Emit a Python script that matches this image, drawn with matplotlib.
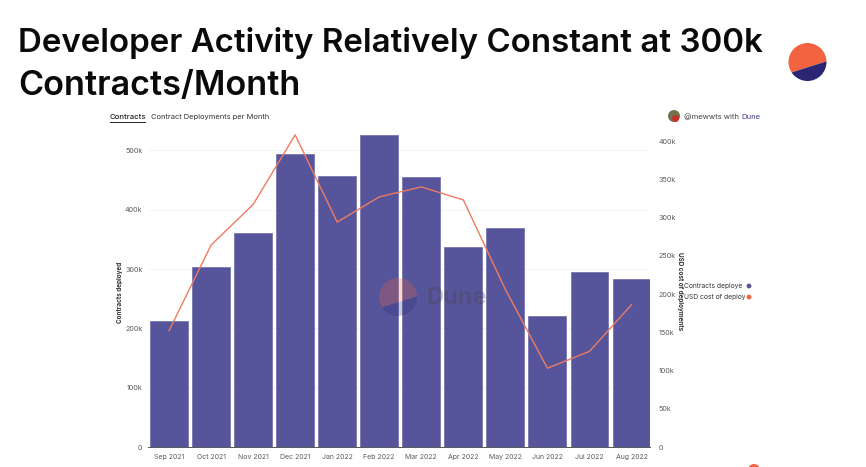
import matplotlib
matplotlib.use("Agg")
import numpy as np
import matplotlib.pyplot as plt
from matplotlib.patches import Circle, Polygon, Rectangle

months = ['Sep 2021', 'Oct 2021', 'Nov 2021', 'Dec 2021', 'Jan 2022', 'Feb 2022',
          'Mar 2022', 'Apr 2022', 'May 2022', 'Jun 2022', 'Jul 2022', 'Aug 2022']
contracts = [212000, 303500, 361000, 494000, 457000, 526000,
             455000, 337000, 369000, 221000, 295000, 283000]
usd_cost = [152000, 264000, 317000, 408000, 294000, 327000,
            340000, 323000, 206000, 103000, 125000, 186000]
left_ticks = [0, 100000, 200000, 300000, 400000, 500000]
left_labels = ['0', '100k', '200k', '300k', '400k', '500k']
right_ticks = [0, 50000, 100000, 150000, 200000, 250000, 300000, 350000, 400000]
right_labels = ['0', '50k', '100k', '150k', '200k', '250k', '300k', '350k', '400k']

W, H = 866, 467
PURPLE = '#56559b'
ORANGE = '#ee7b60'
LOGO_ORANGE = '#f4633f'
LOGO_NAVY = '#2b2673'

plt.rcParams['font.family'] = ['Inter', 'DejaVu Sans']
fig = plt.figure(figsize=(W / 100, H / 100), dpi=100, facecolor='white')

# main chart, placed in pixels
x0, x1, y_top, y_bot = 148, 650, 130, 447
ax = fig.add_axes([x0 / W, 1 - y_bot / H, (x1 - x0) / W, (y_bot - y_top) / H])
ax.bar(range(12), contracts, width=0.9, color=PURPLE, edgecolor='#6b6aaa', linewidth=0.5, zorder=2)
ax.set_xlim(-0.5, 11.44)
ax.set_ylim(0, 534500)
ax.set_xticks(range(12))
ax.set_xticklabels(months, fontsize=5.0, color='#5a5a5a')
ax.set_yticks(left_ticks)
ax.set_yticklabels(left_labels, fontsize=5.2, color='#5a5a5a')
ax.tick_params(length=0, pad=4)
ax.tick_params(axis='x', pad=5)
ax.grid(axis='y', color='#f4f4f4', linewidth=0.7, zorder=0)
ax.set_axisbelow(True)
for s in ['top', 'left', 'right']:
    ax.spines[s].set_visible(False)
ax.spines['bottom'].set_color('#555555')
ax.spines['bottom'].set_linewidth(0.7)

ax2 = ax.twinx()
ax2.plot(range(12), usd_cost, color=ORANGE, linewidth=1.0, zorder=5)
ax2.set_ylim(0, 414400)
ax2.set_yticks(right_ticks)
ax2.set_yticklabels(right_labels, fontsize=5.2, color='#5a5a5a')
ax2.tick_params(length=0, pad=6)
for s in ax2.spines.values():
    s.set_visible(False)

# overlay in pixel coordinates for title, logo, legend
ov = fig.add_axes([0, 0, 1, 1], zorder=10)
ov.set_xlim(0, W)
ov.set_ylim(H, 0)
ov.axis('off')


def logo(cx, cy, r, alpha=1.0):
    # slanted split a bit below the centre: orange on top, navy below
    th = np.radians(17.6)
    d = np.array([np.cos(th), -np.sin(th)])
    n = np.array([np.sin(th), np.cos(th)])
    c = np.array([cx, cy]) + n * r * 0.27
    far = 3 * r
    top = [c - d * far, c + d * far, c + d * far - n * far, c - d * far - n * far]
    bottom = [c - d * far, c + d * far, c + d * far + n * far, c - d * far + n * far]
    clip = Circle((cx, cy), r, transform=ov.transData)
    for pts, col in [(top, LOGO_ORANGE), (bottom, LOGO_NAVY)]:
        p = Polygon(pts, facecolor=col, alpha=alpha, linewidth=0)
        ov.add_patch(p)
        p.set_clip_path(clip)


ov.text(18, 52, 'Developer Activity Relatively Constant at 300k', fontsize=23.8,
        fontweight='semibold', color='#0a0a0a', va='baseline', ha='left')
ov.text(18, 95, 'Contracts/Month', fontsize=24.6,
        fontweight='semibold', color='#0a0a0a', va='baseline', ha='left')

logo(807.5, 62, 19)
ov.add_patch(Circle((754, 470), 6, facecolor=LOGO_ORANGE, linewidth=0))

# Dune watermark
logo(398, 297, 19, alpha=0.25)
ov.text(427, 298, 'Dune', fontsize=17, fontweight='bold', color='#444444', alpha=0.3,
        va='center', ha='left')

# chart header
ov.text(110, 117, 'Contracts', fontsize=5.6, fontweight='medium', color='#222222', va='center')
ov.plot([110, 145], [121.5, 121.5], color='#222222', linewidth=0.7)
ov.text(151, 117, 'Contract Deployments per Month', fontsize=5.4, color='#333333', va='center')
ov.add_patch(Circle((674, 116), 6, facecolor='#6f7350', linewidth=0))
ov.add_patch(Circle((675.5, 118.5), 3.5, facecolor='#c8302a', linewidth=0))
ov.text(684, 117, '@mewwts with', fontsize=5.5, color='#444444', va='center')
ov.text(741, 117, 'Dune', fontsize=5.5, color='#3b3a8f', va='center')

# axis titles
ov.text(120, 292, 'Contracts deployed', fontsize=4.6, fontweight='bold', color='#333333',
        rotation=90, va='center', ha='center')
ov.text(680, 291, 'USD cost of deployments', fontsize=4.6, fontweight='bold', color='#333333',
        rotation=270, va='center', ha='center')

# cut-off legend, names are clipped in the original too
legend_clip = Rectangle((680, 275), 65, 30, transform=ov.transData)
for y, name in [(286, 'Contracts deploye'), (297, 'USD cost of deploy')]:
    t = ov.text(684, y, name, fontsize=4.8, color='#333333', va='center', clip_on=True)
    t.set_clip_path(legend_clip)
ov.add_patch(Circle((749, 286), 2.4, facecolor=PURPLE, linewidth=0))
ov.add_patch(Circle((749, 297), 2.4, facecolor=LOGO_ORANGE, linewidth=0))

fig.savefig('out.png', dpi=100)
